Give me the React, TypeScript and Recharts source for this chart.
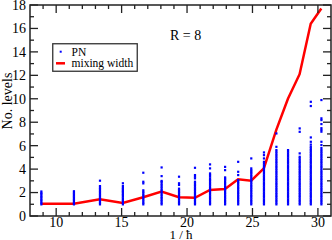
import React from 'react';
import { ComposedChart, Scatter, Line, XAxis, YAxis, ReferenceArea, Legend } from 'recharts';

const invH = [8.86, 11.35, 13.34, 15.09, 16.65, 18.05, 19.38, 20.6, 21.75, 22.9, 23.9, 24.9, 25.87, 26.82, 27.71, 28.6, 29.45, 30.26];
const mixingWidth = [1.05, 1.05, 1.42, 1.12, 1.6, 2.08, 1.6, 1.55, 2.22, 2.3, 3.13, 3.01, 4.07, 7.35, 10.0, 12.1, 16.4, 17.7];

const pnColumns: number[][] = [
  [1.0, 1.12, 1.25, 1.37, 1.5, 1.62, 1.75, 1.87, 1.98, 2.1],
  [1.0, 1.11, 1.24, 1.36, 1.49, 1.61, 1.74, 1.86, 1.99, 2.12],
  [1.0, 1.13, 1.26, 1.39, 1.52, 1.65, 1.78, 1.91, 2.04, 2.17, 2.3, 2.42, 2.56, 3.02],
  [1.0, 1.13, 1.26, 1.39, 1.52, 1.66, 1.79, 1.92, 2.05, 2.17, 2.28, 2.41, 2.56, 2.8],
  [1.0, 1.13, 1.26, 1.4, 1.53, 1.67, 1.8, 1.94, 2.07, 2.2, 2.79, 2.93, 3.7],
  [1.0, 1.13, 1.27, 1.4, 1.54, 1.67, 1.81, 1.95, 2.08, 2.22, 2.36, 2.5, 2.64, 2.78, 2.92, 3.0, 3.41, 4.15],
  [1.0, 1.13, 1.26, 1.4, 1.53, 1.67, 1.8, 1.94, 2.07, 2.21, 2.34, 2.66, 2.8, 3.36],
  [1.0, 1.13, 1.27, 1.4, 1.54, 1.68, 1.82, 1.96, 2.1, 2.24, 2.38, 2.52, 2.66, 2.8, 2.93, 3.22, 3.36, 3.5, 4.12],
  [1.0, 1.13, 1.27, 1.41, 1.55, 1.69, 1.83, 1.97, 2.11, 2.25, 2.39, 2.53, 2.67, 2.81, 2.95, 3.08, 3.2, 3.36, 3.5, 3.64, 4.07, 4.41],
  [1.0, 1.14, 1.28, 1.42, 1.56, 1.7, 1.84, 1.98, 2.12, 2.26, 2.4, 2.54, 2.68, 2.82, 2.96, 3.1, 3.2, 3.3, 3.92, 4.2],
  [1.0, 1.14, 1.28, 1.42, 1.56, 1.7, 1.84, 1.98, 2.12, 2.26, 2.4, 2.54, 2.68, 2.82, 2.95, 3.07, 3.5, 3.78, 4.63],
  [1.0, 1.14, 1.28, 1.42, 1.57, 1.71, 1.85, 1.99, 2.14, 2.28, 2.42, 2.56, 2.71, 2.85, 2.99, 3.13, 3.27, 3.41, 3.55, 3.69, 3.8, 3.92, 4.07, 4.92],
  [1.0, 1.14, 1.29, 1.43, 1.58, 1.72, 1.87, 2.01, 2.16, 2.3, 2.45, 2.59, 2.74, 2.88, 3.03, 3.17, 3.32, 3.46, 3.61, 3.75, 3.9, 4.04, 4.19, 4.33, 4.48, 4.63, 4.92, 5.2, 5.43],
  [1.0, 1.14, 1.29, 1.43, 1.58, 1.72, 1.87, 2.01, 2.16, 2.3, 2.45, 2.59, 2.74, 2.88, 3.03, 3.17, 3.32, 3.46, 3.61, 3.75, 3.9, 4.04, 4.19, 4.33, 4.48, 4.62, 4.77, 4.91, 5.06, 5.2, 5.35, 5.49, 5.63, 5.91, 7.05],
  [1.0, 1.14, 1.29, 1.43, 1.58, 1.72, 1.87, 2.01, 2.16, 2.3, 2.45, 2.59, 2.74, 2.88, 3.03, 3.17, 3.32, 3.46, 3.61, 3.75, 3.9, 4.04, 4.19, 4.33, 4.48, 4.62, 4.77, 4.91, 5.06, 5.2, 5.35, 5.49, 5.63],
  [1.0, 1.14, 1.29, 1.43, 1.58, 1.72, 1.87, 2.01, 2.16, 2.3, 2.45, 2.59, 2.74, 2.88, 3.03, 3.17, 3.32, 3.46, 3.61, 3.75, 3.9, 4.04, 4.19, 4.33, 4.48, 4.62, 4.77, 4.92, 5.06, 5.35, 7.19, 7.48],
  [1.0, 1.14, 1.29, 1.43, 1.58, 1.72, 1.87, 2.01, 2.16, 2.3, 2.45, 2.59, 2.74, 2.88, 3.03, 3.17, 3.32, 3.46, 3.61, 3.75, 3.9, 4.04, 4.19, 4.33, 4.48, 4.62, 4.77, 4.91, 5.06, 5.2, 5.35, 5.49, 5.63, 5.77, 5.91, 6.1, 6.34, 6.71, 9.39, 9.75],
  [1.0, 1.14, 1.29, 1.43, 1.58, 1.72, 1.87, 2.01, 2.16, 2.3, 2.45, 2.59, 2.74, 2.88, 3.03, 3.17, 3.32, 3.46, 3.61, 3.75, 3.9, 4.04, 4.19, 4.33, 4.48, 4.62, 4.77, 4.91, 5.06, 5.2, 5.35, 5.49, 5.63, 5.8, 6.06, 6.34, 7.2, 7.35, 7.5, 7.85, 8.19, 8.34, 9.9],
];

const xTicks = [9, 10, 11, 12, 13, 14, 15, 16, 17, 18, 19, 20, 21, 22, 23, 24, 25, 26, 27, 28, 29, 30];
const xLabeled = [10, 15, 20, 25, 30];
const yTicks = [0, 1, 2, 3, 4, 5, 6, 7, 8, 9, 10, 11, 12, 13, 14, 15, 16, 17, 18];
const yLabeled = [0, 2, 4, 6, 8, 10, 12, 14, 16, 18];

const W = 332;
const H = 240;
const MARGIN = { top: 5, right: 1, bottom: 0, left: 0 };
const Y_AXIS_W = 30;
const X_AXIS_H = 24;
const PLOT_W = W - MARGIN.left - MARGIN.right - Y_AXIS_W;
const PLOT_H = H - MARGIN.top - MARGIN.bottom - X_AXIS_H;
const FONT = '"Liberation Serif", "Times New Roman", serif';
const AXIS_COLOR = '#222';

const scatterData = pnColumns.flatMap((col, i) => col.map((v) => ({ x: invH[i], y: v })));
const lineData = invH.map((x, i) => ({ x, y: mixingWidth[i] }));

const XTick = (props: any) => {
  const { x, y, payload } = props;
  const v = payload.value;
  const major = xLabeled.includes(v);
  const len = major ? 8 : 4;
  return (
    <g>
      <line x1={x} x2={x} y1={y} y2={y - len} stroke={AXIS_COLOR} strokeWidth={1.3} />
      <line x1={x} x2={x} y1={y - PLOT_H} y2={y - PLOT_H + len} stroke={AXIS_COLOR} strokeWidth={1.3} />
      {major && (
        <text x={x} y={y + 10.5} textAnchor="middle" fontFamily={FONT} fontSize={14} fill="#000">
          {v}
        </text>
      )}
    </g>
  );
};

const YTick = (props: any) => {
  const { x, y, payload } = props;
  const v = payload.value;
  const major = yLabeled.includes(v);
  const len = major ? 8 : 4;
  return (
    <g>
      <line x1={x} x2={x + len} y1={y} y2={y} stroke={AXIS_COLOR} strokeWidth={1.3} />
      <line x1={x + PLOT_W} x2={x + PLOT_W - len} y1={y} y2={y} stroke={AXIS_COLOR} strokeWidth={1.3} />
      {major && (
        <text x={x - 4} y={y} dy="0.35em" textAnchor="end" fontFamily={FONT} fontSize={14} fill="#000">
          {v}
        </text>
      )}
    </g>
  );
};

const Dot = (props: any) => {
  const { cx, cy } = props;
  if (cx == null || cy == null) return null;
  return <rect x={cx - 1} y={cy - 1} width={2.2} height={2.2} fill="#0000ff" />;
};

const LegendBox = () => (
  <svg width={86} height={29} style={{ display: 'block' }}>
    <rect x={0.75} y={0.75} width={84.5} height={27.5} fill="#fff" stroke="#333" strokeWidth={1.3} />
    <rect x={7.7} y={7.7} width={2} height={2} fill="#0000ff" />
    <text x={19.5} y={8.7} dy="0.35em" fontFamily={FONT} fontSize={11.5} fill="#000">PN</text>
    <line x1={4} x2={13} y1={20.3} y2={20.3} stroke="#ff0000" strokeWidth={2.5} />
    <text x={19.5} y={20.3} dy="0.35em" fontFamily={FONT} fontSize={11.5} fill="#000">mixing width</text>
  </svg>
);

export default function App() {
  return (
    <div style={{ position: 'absolute', left: 0, top: 0, width: W, height: H, background: '#fff' }}>
      <ComposedChart width={W} height={H} margin={MARGIN}>
        <XAxis
          dataKey="x"
          type="number"
          domain={[8, 31]}
          allowDataOverflow
          ticks={xTicks}
          interval={0}
          height={X_AXIS_H}
          axisLine={false}
          tickLine={false}
          tickSize={0}
          tickMargin={0}
          tick={(p: any) => <XTick {...p} />}
          label={{
            content: () => (
              <text x={181} y={239} textAnchor="middle" fontFamily={FONT} fontSize={13} fill="#000">
                1 / ħ
              </text>
            ),
          }}
        />
        <YAxis
          dataKey="y"
          type="number"
          domain={[0, 18]}
          allowDataOverflow
          ticks={yTicks}
          interval={0}
          width={Y_AXIS_W}
          axisLine={false}
          tickLine={false}
          tickSize={0}
          tickMargin={0}
          tick={(p: any) => <YTick {...p} />}
          label={{
            content: () => (
              <text
                x={12}
                y={101}
                transform="rotate(-90 12 101)"
                textAnchor="middle"
                fontFamily={FONT}
                fontSize={14}
                fill="#000"
              >
                No. levels
              </text>
            ),
          }}
        />
        <ReferenceArea x1={8} x2={31} y1={0} y2={18} fill="none" stroke={AXIS_COLOR} strokeWidth={1.5} />
        <Scatter name="PN" data={scatterData} shape={(p: any) => <Dot {...p} />} isAnimationActive={false} />
        <Line
          name="mixing width"
          data={lineData}
          dataKey="y"
          type="linear"
          stroke="#ff0000"
          strokeWidth={2.5}
          dot={false}
          activeDot={false}
          isAnimationActive={false}
        />
        <Legend
          layout="vertical"
          align="center"
          verticalAlign="middle"
          wrapperStyle={{ left: 52, top: 43, width: 86, height: 29 }}
          content={() => <LegendBox />}
        />
      </ComposedChart>
      <div
        style={{
          position: 'absolute',
          left: 170,
          top: 28,
          fontFamily: FONT,
          fontSize: 14,
          color: '#000',
          whiteSpace: 'nowrap',
          lineHeight: '16px',
        }}
      >
        R = 8
      </div>
    </div>
  );
}
